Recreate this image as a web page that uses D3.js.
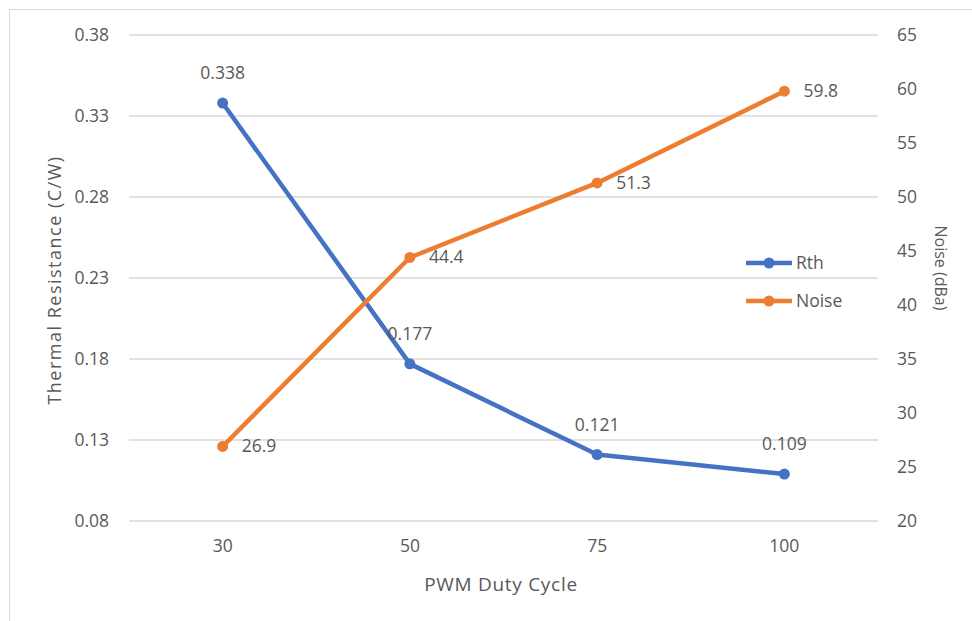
<!DOCTYPE html>
<html>
<head>
<meta charset="utf-8">
<script src="https://cdn.jsdelivr.net/npm/d3@7.9.0/dist/d3.min.js"></script>
<style>
  body { margin: 0; background: #fff; }
  text { font-family: "Open Sans", "Noto Sans", sans-serif; fill: #595959; }
</style>
</head>
<body>
<svg id="chart" width="972" height="621"></svg>
<script>
// data
const dutyCycles = ['30', '50', '75', '100'];
const rthValues = [0.338, 0.177, 0.121, 0.109];
const noiseValues = [26.9, 44.4, 51.3, 59.8];
const leftTicks = [0.08, 0.13, 0.18, 0.23, 0.28, 0.33, 0.38];
const rightTicks = [20, 25, 30, 35, 40, 45, 50, 55, 60, 65];

const svg = d3.select('#chart');
const margin = { left: 129, right: 878, top: 35, bottom: 521 };
const blue = '#4472C4', orange = '#ED7D31';
const fs = '17.5px';

// chart border
svg.append('rect')
  .attr('x', 9.5).attr('y', 9.5)
  .attr('width', 1000).attr('height', 1000)
  .attr('fill', 'none').attr('stroke', '#d9d9d9');

const x = d3.scaleBand().domain(dutyCycles).range([margin.left, margin.right]);
const yL = d3.scaleLinear().domain([0.08, 0.38]).range([margin.bottom, margin.top]);
const yR = d3.scaleLinear().domain([20, 65]).range([margin.bottom, margin.top]);

// gridlines
svg.append('g').selectAll('line').data(leftTicks).join('line')
  .attr('x1', margin.left).attr('x2', margin.right)
  .attr('y1', d => yL(d)).attr('y2', d => yL(d))
  .attr('stroke', '#d9d9d9').attr('stroke-width', 1.3);

// left axis
const gl = svg.append('g').attr('transform', `translate(${margin.left},0)`)
  .call(d3.axisLeft(yL).tickValues(leftTicks).tickFormat(d3.format('.2f')).tickSize(0).tickPadding(20));
gl.select('.domain').remove();
gl.selectAll('text').style('font-size', fs).attr('fill', '#595959');

// right axis
const gr = svg.append('g').attr('transform', `translate(${margin.right},0)`)
  .call(d3.axisRight(yR).tickValues(rightTicks).tickSize(0).tickPadding(19));
gr.select('.domain').remove();
gr.selectAll('text').style('font-size', fs).attr('fill', '#595959');

// x axis
const gx = svg.append('g').attr('transform', `translate(0,${margin.bottom})`)
  .call(d3.axisBottom(x).tickSize(0).tickPadding(19));
gx.select('.domain').remove();
gx.selectAll('text').style('font-size', fs).attr('fill', '#595959');

// titles
svg.append('text').attr('x', 501).attr('y', 591)
  .attr('text-anchor', 'middle').style('font-size', '19px').style('letter-spacing', '0.7px')
  .text('PWM Duty Cycle');
svg.append('text').attr('transform', `translate(61,280) rotate(-90)`)
  .attr('text-anchor', 'middle').style('font-size', '18px').style('letter-spacing', '1.5px')
  .text('Thermal Resistance (C/W)');
svg.append('text').attr('transform', `translate(935,268) rotate(90)`)
  .attr('text-anchor', 'middle').style('font-size', '16px')
  .text('Noise (dBa)');

const cx = d => x(d) + x.bandwidth() / 2;

// Rth series
const rthPts = dutyCycles.map((c, i) => [cx(c), yL(rthValues[i])]);
svg.append('path').attr('d', d3.line()(rthPts))
  .attr('fill', 'none').attr('stroke', blue).attr('stroke-width', 4.5).attr('stroke-linejoin', 'round');
svg.append('g').selectAll('circle').data(rthPts).join('circle')
  .attr('cx', d => d[0]).attr('cy', d => d[1]).attr('r', 5.5).attr('fill', blue);

// Noise series
const noisePts = dutyCycles.map((c, i) => [cx(c), yR(noiseValues[i])]);
svg.append('path').attr('d', d3.line()(noisePts))
  .attr('fill', 'none').attr('stroke', orange).attr('stroke-width', 4.5).attr('stroke-linejoin', 'round');
svg.append('g').selectAll('circle').data(noisePts).join('circle')
  .attr('cx', d => d[0]).attr('cy', d => d[1]).attr('r', 5.5).attr('fill', orange);

// data labels
svg.append('g').selectAll('text').data(rthPts).join('text')
  .attr('x', d => d[0]).attr('y', d => d[1] - 24)
  .attr('text-anchor', 'middle').style('font-size', fs)
  .text((d, i) => rthValues[i]);
svg.append('g').selectAll('text').data(noisePts).join('text')
  .attr('x', d => d[0] + 19).attr('y', d => d[1] + 6)
  .style('font-size', fs)
  .text((d, i) => noiseValues[i].toFixed(1));

// legend
const legend = [['Rth', blue], ['Noise', orange]];
const lg = svg.append('g').selectAll('g').data(legend).join('g')
  .attr('transform', (d, i) => `translate(746,${263 + i * 38})`);
lg.append('line').attr('x1', 0).attr('x2', 46)
  .attr('stroke', d => d[1]).attr('stroke-width', 4.5);
lg.append('circle').attr('cx', 23).attr('r', 5.5).attr('fill', d => d[1]);
lg.append('text').attr('x', 50).attr('y', 6).style('font-size', fs).text(d => d[0]);
</script>
</body>
</html>
